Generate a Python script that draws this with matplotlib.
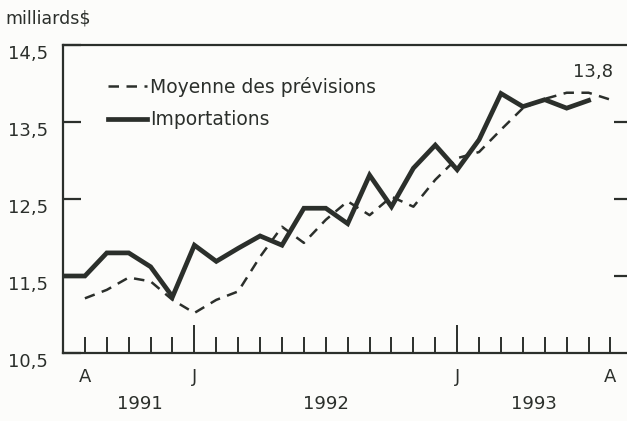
import matplotlib
matplotlib.use("Agg")
import matplotlib.pyplot as plt
from matplotlib.transforms import blended_transform_factory, ScaledTranslation

plt.rcParams['font.family'] = ['DejaVu Sans']

# Months indexed from July 1991 (0) to August 1993 (25)
imp_months = list(range(0, 25))
importations = [11.5, 11.5, 11.8, 11.8, 11.62, 11.23, 11.9, 11.69, 11.86, 12.02,
                11.9, 12.38, 12.38, 12.18, 12.81, 12.40, 12.9, 13.2, 12.88, 13.27,
                13.87, 13.7, 13.79, 13.68, 13.78]
prev_months = list(range(1, 26))
previsions = [11.21, 11.32, 11.48, 11.43, 11.19, 11.02, 11.19, 11.3, 11.75, 12.14,
              11.93, 12.23, 12.47, 12.29, 12.53, 12.40, 12.75, 13.03, 13.11, 13.4,
              13.68, 13.8, 13.88, 13.88, 13.79]

y_ticks = [10.5, 11.5, 12.5, 13.5, 14.5]
y_labels = ["10,5", "11,5", "12,5", "13,5", "14,5"]
month_tick_pos = [1, 6, 18, 25]
month_tick_lab = ["A", "J", "J", "A"]
year_pos = [3.5, 12.0, 21.5]
year_lab = ["1991", "1992", "1993"]
last_label = "13,8"

ink = '#2b2f2b'
bg = '#fcfcfa'

fig = plt.figure(figsize=(6.27, 4.21), dpi=100, facecolor=bg)
W, H = 627, 421
ax = fig.add_axes([63 / W, 1 - 353 / H, (628 - 63) / W, (353 - 45) / H], facecolor=bg)

ax.plot(prev_months, previsions, color=ink, lw=1.8, ls=(0, (4.2, 3.0)),
        label="Moyenne des prévisions", solid_capstyle='butt', dash_capstyle='butt')
ax.plot(imp_months, importations, color=ink, lw=3.4, label="Importations",
        solid_joinstyle='miter')

ax.set_xlim(0, 25.8)
ax.set_ylim(10.5, 14.5)

for s in ['left', 'bottom', 'top']:
    ax.spines[s].set_linewidth(1.6)
    ax.spines[s].set_color(ink)
ax.spines['right'].set_visible(False)

# x ticks: long ticks at January, short at every other month
ax.set_xticks([6, 18])
ax.set_xticks([m for m in range(1, 26) if m not in (6, 18)], minor=True)
ax.tick_params(axis='x', which='major', direction='in', length=20, width=1.4,
               color=ink, labelbottom=False)
ax.tick_params(axis='x', which='minor', direction='in', length=11.5, width=1.4,
               color=ink)

# y ticks
ax.set_yticks(y_ticks)
ax.set_yticklabels(y_labels)
ax.tick_params(axis='y', direction='in', length=13, width=1.6, color=ink,
               pad=11, labelsize=13, labelcolor=ink)
for lab in ax.get_yticklabels():
    lab.set_transform(lab.get_transform() + ScaledTranslation(0, -5 / 72, fig.dpi_scale_trans))

sec = ax.secondary_yaxis('right')
sec.set_yticks([11.5, 12.5, 13.5])
sec.tick_params(direction='in', length=10, width=1.6, color=ink, labelright=False)
sec.spines['right'].set_visible(False)

trans = blended_transform_factory(ax.transData, fig.transFigure)
for p, l in zip(month_tick_pos, month_tick_lab):
    ax.text(p, 1 - 377 / H, l, transform=trans, ha='center', va='center',
            fontsize=13, color=ink)
for p, l in zip(year_pos, year_lab):
    ax.text(p, 1 - 404 / H, l, transform=trans, ha='center', va='center',
            fontsize=13, color=ink)

ax.text(24.2, 14.15, last_label, ha='center', va='center', fontsize=13, color=ink)
fig.text(5 / W, 1 - 18 / H, "milliards$", ha='left', va='center', fontsize=12.5, color=ink)

leg = ax.legend(loc='center left', bbox_to_anchor=((108 - 63) / 565, (353 - 103) / 308),
                frameon=False, prop={'size': 13.5}, handlelength=2.1, handletextpad=0.15,
                labelspacing=0.73, borderaxespad=0, borderpad=0)
for t in leg.get_texts():
    t.set_color(ink)

fig.savefig("out.png", dpi=100, facecolor=bg)
